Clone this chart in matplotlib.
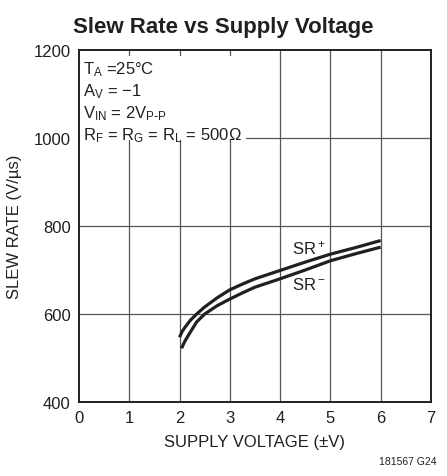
import numpy as np
import matplotlib
matplotlib.use("Agg")
import matplotlib.pyplot as plt
from matplotlib.patches import Rectangle

# curves
v_pos = [2.0, 2.05, 2.11, 2.21, 2.34, 2.5, 2.75, 3.0, 3.25, 3.5, 4.0, 4.5, 5.0, 5.5, 6.0]
sr_pos = [547, 560, 570, 585, 600, 616, 637, 655, 668, 680, 699, 718, 736, 751, 767]
v_neg = [2.04, 2.08, 2.11, 2.21, 2.34, 2.5, 2.75, 3.0, 3.25, 3.5, 4.0, 4.5, 5.0, 5.5, 6.0]
sr_neg = [522, 532, 539, 558, 582, 600, 619, 634, 648, 661, 680, 700, 721, 737, 752]

x_ticks = [0, 1, 2, 3, 4, 5, 6, 7]
y_ticks = [400, 600, 800, 1000, 1200]

conditions = [
    r"$\mathregular{T_A}$ =25°C",
    r"$\mathregular{A_V}$ = −1",
    r"$\mathregular{V_{IN}}$ = 2$\mathregular{V_{P\text{-}P}}$",
    r"$\mathregular{R_F}$ = $\mathregular{R_G}$ = $\mathregular{R_L}$ = 500Ω",
]

plt.rcParams["font.family"] = ["Liberation Sans", "DejaVu Sans"]

fig = plt.figure(figsize=(4.47, 4.77), dpi=100)
ax = fig.add_axes([0.1767, 0.1551, 0.7873, 0.7379])

ax.set_xlim(0, 7)
ax.set_ylim(400, 1200)
ax.set_xticks(x_ticks)
ax.set_yticks(y_ticks)
ax.tick_params(length=0, labelsize=12, pad=6, colors="#231f20")

for x in x_ticks[1:-1]:
    ax.axvline(x, color="#555555", lw=0.9, zorder=1)
for y in y_ticks[1:-1]:
    ax.axhline(y, color="#555555", lw=0.9, zorder=1)
for s in ax.spines.values():
    s.set_linewidth(1.4)
    s.set_color("#231f20")

# white box behind the test conditions
ax.add_patch(Rectangle((0.03, 995), 3.3, 191, facecolor="white",
                       edgecolor="none", zorder=2))

ax.plot(v_pos, sr_pos, color="#231f20", lw=2.3, zorder=3, solid_capstyle="butt")
ax.plot(v_neg, sr_neg, color="#231f20", lw=2.3, zorder=3, solid_capstyle="butt")

ax.text(4.24, 738, r"$\mathregular{SR^+}$", fontsize=12, color="#231f20",
        va="baseline", zorder=4)
ax.text(4.24, 686, r"$\mathregular{SR^-}$", fontsize=12, color="#231f20",
        va="top", zorder=4)

for i, line in enumerate(conditions):
    ax.text(0.08, 1180 - i * 50, line, fontsize=12, color="#231f20",
            va="top", zorder=4)

ax.set_xlabel("SUPPLY VOLTAGE (±V)", fontsize=12, color="#231f20", labelpad=6)
ax.set_ylabel("SLEW RATE (V/µs)", fontsize=12, color="#231f20", labelpad=8)

fig.text(0.5, 0.965, "Slew Rate vs Supply Voltage", ha="center", va="top",
         fontsize=16, fontweight="bold", color="#231f20")
fig.text(0.977, 0.02, "181567 G24", ha="right", va="bottom",
         fontsize=7.5, color="#231f20")

fig.savefig("out.png", dpi=100)
